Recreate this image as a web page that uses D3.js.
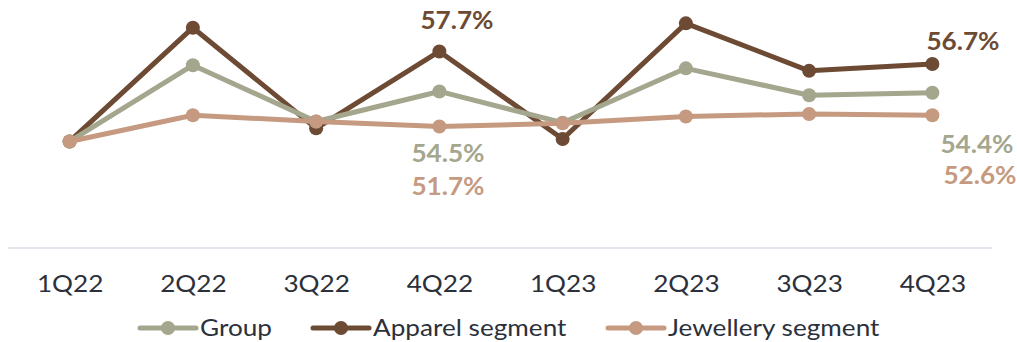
<!DOCTYPE html>
<html>
<head>
<meta charset="utf-8">
<script src="https://cdn.jsdelivr.net/npm/d3@7"></script>
<style>
  html, body { margin: 0; padding: 0; background: #ffffff; }
  svg { display: block; font-family: Lato, "Open Sans", sans-serif; }
</style>
</head>
<body>
<svg id="chart" width="1017" height="342"></svg>
<script>
// Quarterly gross margin (%) by segment
const quarters = ["1Q22", "2Q22", "3Q22", "4Q22", "1Q23", "2Q23", "3Q23", "4Q23"];
const groupMargin     = [50.5, 56.6, 52.1, 54.5, 52.0, 56.35, 54.2, 54.4];
const apparelMargin   = [50.5, 59.6, 51.55, 57.7, 50.7, 59.95, 56.15, 56.7];
const jewelleryMargin = [50.5, 52.6, 52.1, 51.7, 51.95, 52.5, 52.7, 52.6];
const seriesNames = ["Group", "Apparel segment", "Jewellery segment"];

// Value labels shown on the chart: [series index, quarter index]
const labelled = [[1, 3], [0, 3], [2, 3], [1, 7], [0, 7], [2, 7]];

const colors = ["#a4a68d", "#6d4a33", "#c59a80"];
const series = [groupMargin, apparelMargin, jewelleryMargin];
const textColor = "#2b303b";
const stretch = 1.09;   // slightly widened lettering

const svg = d3.select("#chart");

const x = d3.scalePoint().domain(quarters).range([8, 994]).padding(0.5);
const y = d3.scaleLinear().domain([45, 61]).range([210.2, 10.2]);

// Baseline axis
const axisG = svg.append("g").attr("transform", "translate(0,248)");
axisG.call(d3.axisBottom(x).tickSize(0).tickPadding(27));
axisG.select(".domain").attr("stroke", "#d9dce6").attr("stroke-width", 1.5)
  .attr("d", "M8,0H992");
axisG.selectAll(".tick text")
  .attr("fill", textColor)
  .attr("transform", `scale(${stretch},1)`)
  .style("font-size", "24px")
  .style("font-family", "Lato, sans-serif");

const line = d3.line().x((d, i) => x(quarters[i])).y(d => y(d));

// Draw order: apparel, group, jewellery on top
const order = [1, 0, 2];
order.forEach(s => {
  const g = svg.append("g");
  g.append("path")
    .datum(series[s])
    .attr("fill", "none")
    .attr("stroke", colors[s])
    .attr("stroke-width", 5)
    .attr("stroke-linejoin", "round")
    .attr("d", line);
  g.selectAll("circle")
    .data(series[s])
    .join("circle")
    .attr("cx", (d, i) => x(quarters[i]))
    .attr("cy", d => y(d))
    .attr("r", 7)
    .attr("fill", colors[s]);
});

// Value labels, placed relative to their points
const labelOffsets = {
  "1,3": [-19, -22], "0,3": [-28, 71], "2,3": [-28, 69],
  "1,7": [-6, -14], "0,7": [8, 60], "2,7": [11, 69]
};
svg.append("g").selectAll("text")
  .data(labelled)
  .join("text")
  .attr("transform", d => {
    const o = labelOffsets[d.join(",")];
    return `translate(${x(quarters[d[1]]) + o[0]},${y(series[d[0]][d[1]]) + o[1]}) scale(${stretch},1)`;
  })
  .attr("fill", d => colors[d[0]])
  .style("font-size", "24px")
  .style("font-weight", "700")
  .text(d => series[d[0]][d[1]].toFixed(1) + "%");

// Legend
const legendX = [140, 313, 608];
const legend = svg.append("g").attr("transform", "translate(0,328)");
seriesNames.forEach((name, i) => {
  const g = legend.append("g").attr("transform", `translate(${legendX[i]},0)`);
  g.append("line").attr("x1", 0).attr("x2", 56).attr("y1", 0).attr("y2", 0)
    .attr("stroke", colors[i]).attr("stroke-width", 5).attr("stroke-linecap", "round");
  g.append("circle").attr("cx", 28).attr("cy", 0).attr("r", 7).attr("fill", colors[i]);
  g.append("text")
    .attr("transform", `translate(60,8) scale(${stretch},1)`)
    .attr("fill", textColor)
    .style("font-size", "24px")
    .text(name);
});
</script>
</body>
</html>
